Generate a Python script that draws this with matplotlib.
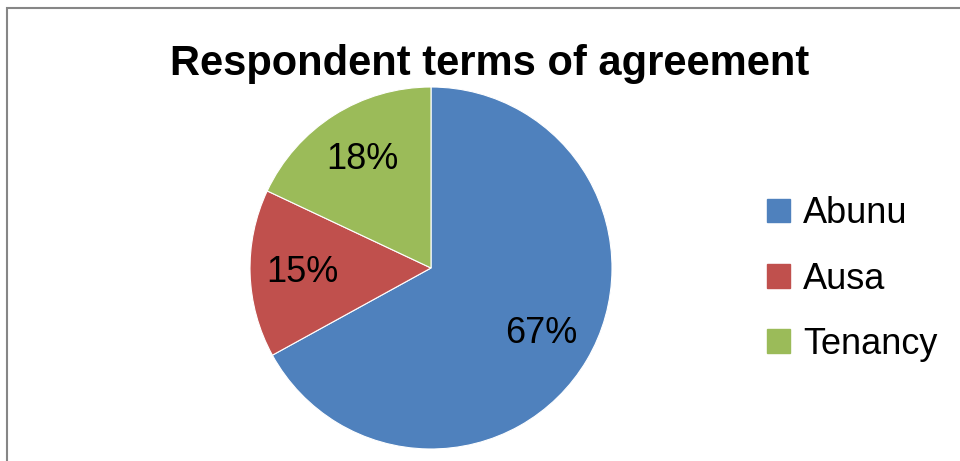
import matplotlib.pyplot as plt
from matplotlib.patches import Rectangle, Patch

labels = ["Abunu", "Ausa", "Tenancy"]
shares = [67, 15, 18]
colors = ["#4F81BD", "#C0504D", "#9BBB59"]

W, H = 960, 461
fig = plt.figure(figsize=(W / 100, H / 100), dpi=100)
plt.rcParams['font.family'] = ['Liberation Sans', 'DejaVu Sans']

# outer chart border (left and top visible)
fig.patches.append(Rectangle((6.5 / W, -0.1), 1.2, 1.1 - 8.5 / H,
                             transform=fig.transFigure, fill=False,
                             edgecolor="#868686", linewidth=1.5))

cx, cy, r = 431, H - 268, 181
ax = fig.add_axes([(cx - r) / W, (cy - r) / H, 2 * r / W, 2 * r / H])
wedges, texts, autotexts = ax.pie(shares, colors=colors, startangle=90,
                                  counterclock=False, autopct="%d%%",
                                  pctdistance=0.71,
                                  wedgeprops=dict(edgecolor="white", linewidth=0.8),
                                  textprops=dict(fontsize=26, color="black"))
ax.set_xlim(-1, 1)
ax.set_ylim(-1, 1)

fig.text(490 / W, 1 - 64 / H, "Respondent terms of agreement",
         ha="center", va="center", fontsize=30, fontweight="bold")

handles = [Patch(facecolor=c, edgecolor=c) for c in colors]
fig.legend(handles, labels, loc="center left",
           bbox_to_anchor=(767 / W, 1 - 279 / H), frameon=False,
           fontsize=26, handlelength=0.64, handleheight=0.64,
           handletextpad=0.35, labelspacing=0.84, borderaxespad=0,
           borderpad=0)

fig.savefig("out.png", dpi=100)
